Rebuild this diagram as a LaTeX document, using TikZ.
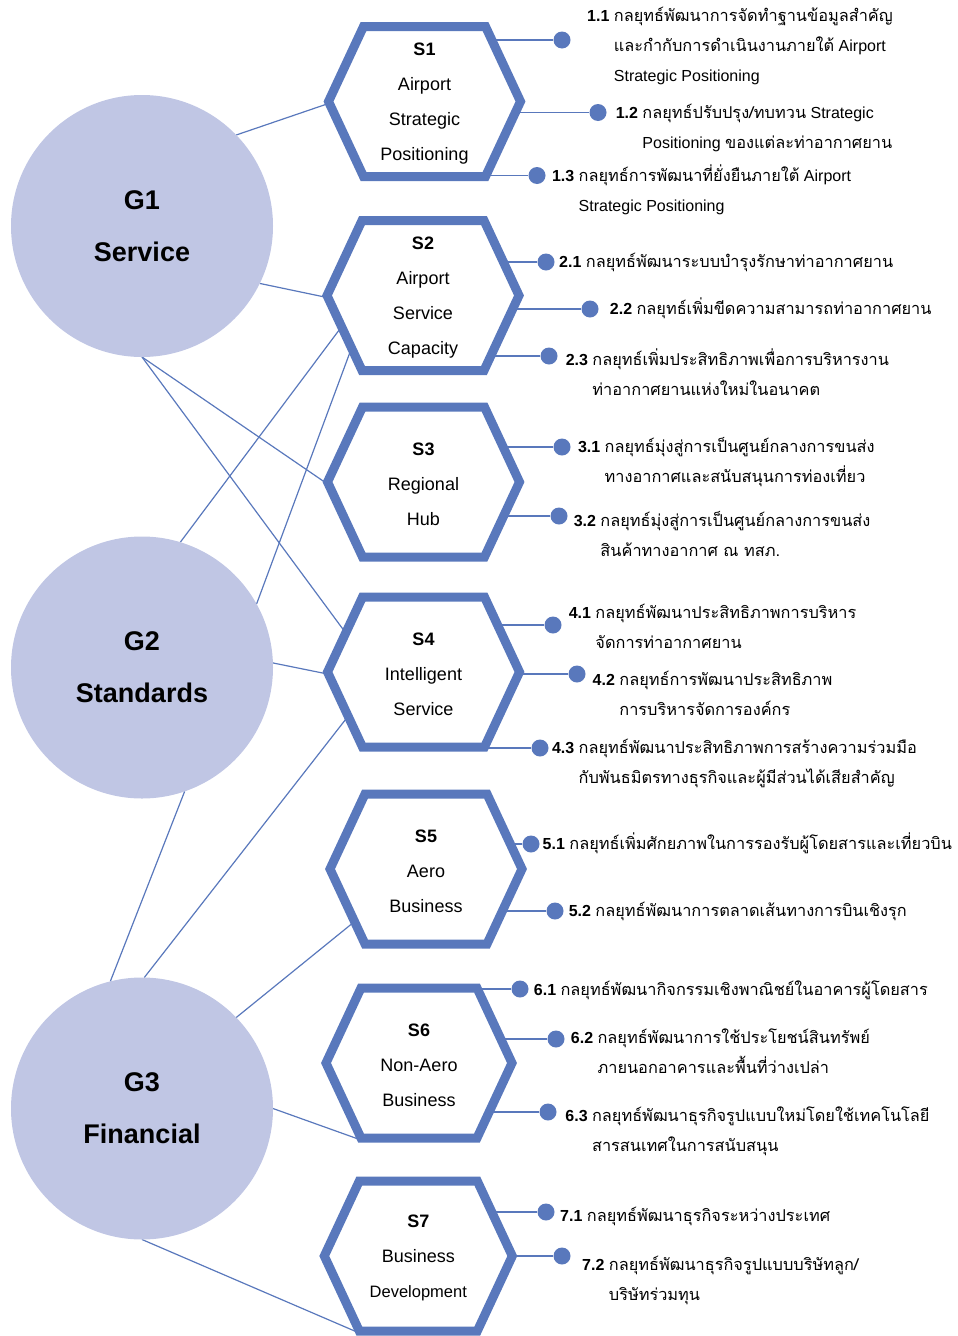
\documentclass[tikz,border=0pt]{standalone}
\usepackage{fontspec}
\setmainfont{Liberation Sans}
\newfontfamily\thaifont[Script=Thai,Scale=1.02]{Loma}
\usetikzlibrary{calc,backgrounds}
\definecolor{hexblue}{RGB}{89,120,188}
\definecolor{goalfill}{RGB}{192,198,228}
\newcommand{\tx}[1]{{\thaifont #1}}
\newcommand{\strat}[2]{\textbf{#1} \begin{tabular}[t]{@{}l@{}}#2\end{tabular}}
\tikzset{
  goal/.style={circle, fill=goalfill, minimum size=262pt, inner sep=0pt, outer sep=0pt, align=center, font=\fontsize{27}{52}\selectfont\bfseries},
  stratnode/.style={align=center, inner sep=0pt, yshift=-2pt, font=\fontsize{18}{35}\selectfont},
  hexline/.style={draw=hexblue, line width=9pt, fill=white, line join=miter},
  link/.style={draw=hexblue, line width=1.2pt},
  dot/.style={circle, fill=hexblue, minimum size=17pt, inner sep=0pt},
  lbl/.style={anchor=base west, inner sep=0pt, font=\fontsize{16}{30}\selectfont}
}
\begin{document}
\begin{tikzpicture}[x=1pt, y=-1pt]
\useasboundingbox (0,0) rectangle (958,1336);
% goals
\node[goal] (G1) at (142,226) {G1\\Service};
\node[goal] (G2) at (142,667.5) {G2\\Standards};
\node[goal] (G3) at (142,1108.5) {G3\\Financial};
% strategies
\foreach \n/\x/\y/\w/\txt in {S1/424.5/101.5/96/{\textbf{S1}\\Airport\\Strategic\\Positioning},
    S2/423/295.5/96/{\textbf{S2}\\Airport\\Service\\Capacity},
    S3/423.5/482/96/{\textbf{S3}\\Regional\\Hub},
    S4/423.5/672/96/{\textbf{S4}\\Intelligent\\Service},
    S5/426/869/96/{\textbf{S5}\\Aero\\Business},
    S6/419/1063/93/{\textbf{S6}\\Non-Aero\\Business},
    S7/418.3/1256/94/{\textbf{S7}\\Business\\{\fontsize{16.5}{32}\selectfont Development}}}{
  \draw[hexline] (\x,\y) ++(-\w,0) -- ++(35,-75) -- ++(2*\w-70,0) -- ++(35,75) -- ++(-35,75) -- ++(70-2*\w,0) -- cycle;
  \node[stratnode] (\n) at (\x,\y) {\txt};
}
% end points
\foreach \d/\x/\y in {11/562/40, 12/598/112.5, 13/537/175.5, 21/546/262, 22/590/309, 23/549/356,
    31/562/447, 32/559/516, 41/553/625, 42/577/674, 43/540/748, 51/531/844, 52/555/911,
    61/520/989, 62/556/1039, 63/548/1112, 71/546/1212, 72/562/1256}
  \node[dot] (d\d) at (\x,\y) {};
% connectors
\begin{pgfonlayer}{background}
\foreach \s/\d in {S1/11,S1/12,S1/13,S2/21,S2/22,S2/23,S3/31,S3/32,S4/41,S4/42,S4/43,
    S5/51,S5/52,S6/61,S6/62,S6/63,S7/71,S7/72}
  \draw[link] (d\d) -- (d\d -| \s);
\draw[link] (G1.44) -- ($(S1)+(-96,0)$);
\draw[link] (G1.-26) -- ($(S2)+(-96,0)$);
\draw[link] (G1.south) -- ($(S3)+(-96,0)$);
\draw[link] (G1.south) -- ($(S4)+(-77,-40)$);
\draw[link] (G2.73) -- ($(S2)+(-82,30)$);
\draw[link] (G2.29) -- ($(S2)+(-72,52)$);
\draw[link] (G2.2) -- ($(S4)+(-96,0)$);
\draw[link] (G2.-71) -- (G3.104);
\draw[link] (G3.89) -- ($(S4)+(-76,43)$);
\draw[link] (G3.44) -- ($(S5)+(-72,51)$);
\draw[link] (G3.0) -- ($(S6)+(-58,75)$);
\draw[link] (G3.south) -- ($(S7)+(-59,75)$);
\end{pgfonlayer}
% labels
\node[lbl] (t11) at (587,21.5) {\strat{1.1}{\tx{กลยุทธ์พัฒนาการจัดทำฐานข้อมูลสำคัญ}\\\tx{และกำกับการดำเนินงานภายใต้} Airport\\Strategic Positioning}};
\node[lbl] (t12) at (615.6,118.5) {\strat{1.2}{\tx{กลยุทธ์ปรับปรุง/ทบทวน} Strategic\\Positioning \tx{ของแต่ละท่าอากาศยาน}}};
\node[lbl] (t13) at (551.8,181.5) {\strat{1.3}{\tx{กลยุทธ์การพัฒนาที่ยั่งยืนภายใต้} Airport\\Strategic Positioning}};
\node[lbl] (t21) at (559,267.5) {\strat{2.1}{\tx{กลยุทธ์พัฒนาระบบบำรุงรักษาท่าอากาศยาน}}};
\node[lbl] (t22) at (609.7,314.5) {\strat{2.2}{\tx{กลยุทธ์เพิ่มขีดความสามารถท่าอากาศยาน}}};
\node[lbl] (t23) at (565.6,365.5) {\strat{2.3}{\tx{กลยุทธ์เพิ่มประสิทธิภาพเพื่อการบริหารงาน}\\\tx{ท่าอากาศยานแห่งใหม่ในอนาคต}}};
\node[lbl] (t31) at (577.8,452.5) {\strat{3.1}{\tx{กลยุทธ์มุ่งสู่การเป็นศูนย์กลางการขนส่ง}\\\tx{ทางอากาศและสนับสนุนการท่องเที่ยว}}};
\node[lbl] (t32) at (573.6,526) {\strat{3.2}{\tx{กลยุทธ์มุ่งสู่การเป็นศูนย์กลางการขนส่ง}\\\tx{สินค้าทางอากาศ ณ ทสภ.}}};
\node[lbl] (t41) at (568.6,618.5) {\strat{4.1}{\tx{กลยุทธ์พัฒนาประสิทธิภาพการบริหาร}\\\tx{จัดการท่าอากาศยาน}}};
\node[lbl] (t42) at (592.5,685.5) {\strat{4.2}{\tx{กลยุทธ์การพัฒนาประสิทธิภาพ}\\\tx{การบริหารจัดการองค์กร}}};
\node[lbl] (t43) at (551.8,753.5) {\strat{4.3}{\tx{กลยุทธ์พัฒนาประสิทธิภาพการสร้างความร่วมมือ}\\\tx{กับพันธมิตรทางธุรกิจและผู้มีส่วนได้เสียสำคัญ}}};
\node[lbl] (t51) at (542.5,849.5) {\strat{5.1}{\tx{กลยุทธ์เพิ่มศักยภาพในการรองรับผู้โดยสารและเที่ยวบิน}}};
\node[lbl] (t52) at (568.6,916.5) {\strat{5.2}{\tx{กลยุทธ์พัฒนาการตลาดเส้นทางการบินเชิงรุก}}};
\node[lbl] (t61) at (533.7,995.5) {\strat{6.1}{\tx{กลยุทธ์พัฒนากิจกรรมเชิงพาณิชย์ในอาคารผู้โดยสาร}}};
\node[lbl] (t62) at (570.7,1043.5) {\strat{6.2}{\tx{กลยุทธ์พัฒนาการใช้ประโยชน์สินทรัพย์}\\\tx{ภายนอกอาคารและพื้นที่ว่างเปล่า}}};
\node[lbl] (t63) at (565.2,1121) {\strat{6.3}{\tx{กลยุทธ์พัฒนาธุรกิจรูปแบบใหม่โดยใช้เทคโนโลยี}\\\tx{สารสนเทศในการสนับสนุน}}};
\node[lbl] (t71) at (560,1221.5) {\strat{7.1}{\tx{กลยุทธ์พัฒนาธุรกิจระหว่างประเทศ}}};
\node[lbl] (t72) at (582,1270.5) {\strat{7.2}{\tx{กลยุทธ์พัฒนาธุรกิจรูปแบบบริษัทลูก/}\\\tx{บริษัทร่วมทุน}}};
\end{tikzpicture}
\end{document}
